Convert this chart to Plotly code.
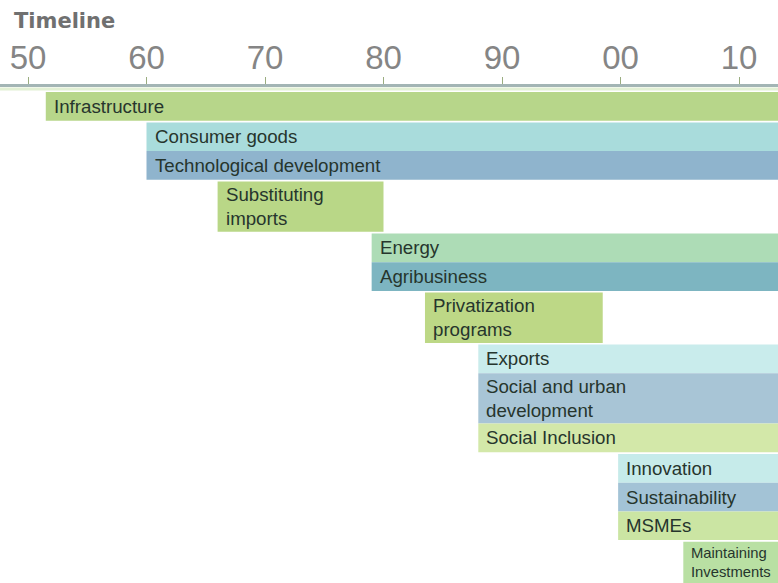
import plotly.graph_objects as go

# ---------------- data ----------------
labels = ["Infrastructure", "Consumer goods", "Technological development",
          "Substituting<br>imports", "Energy", "Agribusiness",
          "Privatization<br>programs", "Exports", "Social and urban<br>development",
          "Social Inclusion", "Innovation", "Sustainability", "MSMEs",
          "Maintaining<br>Investments"]
start_year = [1951.5, 1960, 1960, 1966, 1979, 1979, 1983.5, 1988, 1988, 1988,
              1999.8, 1999.8, 1999.8, 2005.3]
end_year = [2014, 2014, 2014, 1980, 2014, 2014, 1998.5, 2014, 2014, 2014,
            2014, 2014, 2014, 2014]
tick_years = [1950, 1960, 1970, 1980, 1990, 2000, 2010]
tick_labels = ["50", "60", "70", "80", "90", "00", "10"]

# ---------------- styles ----------------
colors = ["#b7d68a", "#a9dcdc", "#8fb4cd", "#b9d787", "#addcb6", "#7db5c1",
          "#bdd886", "#c9ecec", "#a8c5d6", "#d3e8a9", "#c6ebea", "#a3c3d6",
          "#cbe5a3", "#b9e0a3"]
font_sizes = [18.7] * 13 + [14.8]
LINE_FACTOR = 1.155

W, H = 778, 583
X0 = 1947.637
PX_PER_YEAR = 11.85
X1 = X0 + W / PX_PER_YEAR
AXIS_Y = 85
TOP = 92
PAD = 7.1
GAP = 1.7

# compute vertical layout (in pixel units)
centers, heights = [], []
y = TOP
prev = None
for lab, s, fs in zip(labels, start_year, font_sizes):
    if prev is not None and s != prev:
        y += GAP
    n = lab.count("<br>") + 1
    h = PAD + n * LINE_FACTOR * fs
    centers.append(y + h / 2)
    heights.append(h)
    y += h
    prev = s

fig = go.Figure()
fig.add_trace(go.Bar(
    orientation="h",
    y=centers,
    x=[e - s for s, e in zip(start_year, end_year)],
    base=start_year,
    width=heights,
    marker=dict(color=colors, line=dict(width=0)),
    hoverinfo="skip",
))

for lab, s, c, fs in zip(labels, start_year, centers, font_sizes):
    fig.add_annotation(x=s, y=c, xref="x", yref="y", text=lab, showarrow=False,
                       xanchor="left", yanchor="middle", align="left", xshift=6,
                       font=dict(family="Liberation Sans, Arial", size=fs, color="#26352d"))

# light line below axis
fig.add_shape(type="line", xref="paper", yref="y", x0=0, x1=1, y0=AXIS_Y + 4, y1=AXIS_Y + 4,
              line=dict(color="#e2f0d4", width=3))

fig.add_annotation(x=12 / W, y=20.5, xref="paper", yref="y", text="<b>Timeline</b>",
                   showarrow=False, xanchor="left", yanchor="middle",
                   font=dict(family="DejaVu Sans", size=21, color="#707070"))

fig.update_layout(
    width=W, height=H,
    margin=dict(l=0, r=0, t=0, b=0, autoexpand=False),
    paper_bgcolor="white", plot_bgcolor="white",
    showlegend=False,
    xaxis=dict(range=[X0, X1], side="top", anchor="free", position=1 - AXIS_Y / H,
               automargin=False,
               showgrid=False, zeroline=False, showline=True, linecolor="#a3b5b5", linewidth=3,
               ticks="outside", ticklen=7, tickwidth=1, tickcolor="#9aad80",
               ticklabelstandoff=-5,
               tickvals=tick_years, ticktext=tick_labels,
               tickfont=dict(family="Liberation Sans Narrow, Arial", size=33, color="#858585")),
    yaxis=dict(range=[H, 0], visible=False, domain=[0, 1], automargin=False),
)

fig.write_html("out.html", config={"displayModeBar": False},
               post_script="document.body.style.margin='0';document.body.style.padding='0';"
                           "document.body.style.overflow='hidden';")
